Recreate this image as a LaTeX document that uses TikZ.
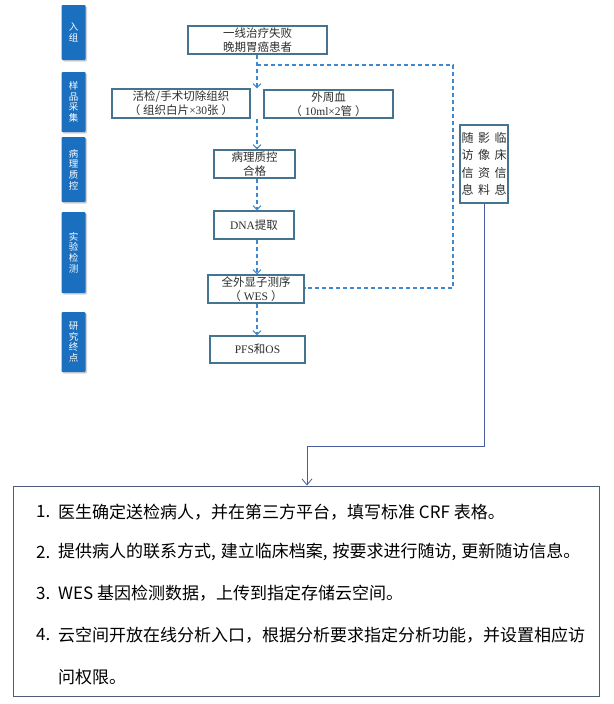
\documentclass[tikz,border=0pt]{standalone}
\usepackage{fontspec}
\setmainfont{Noto Sans CJK SC}
\newfontfamily\tms{Liberation Serif}
\usetikzlibrary{arrows.meta,shadows}
\definecolor{barblue}{HTML}{1A6FBE}
\definecolor{boxline}{HTML}{44748F}
\definecolor{dashblue}{HTML}{3F87CF}
\definecolor{solidline}{HTML}{4A5C9C}
\definecolor{txtgray}{HTML}{2E2E2E}
\definecolor{botline}{HTML}{4C5D7C}
\begin{document}
\begin{tikzpicture}[x=1pt,y=-1pt,
  bar/.style={fill=barblue, draw=none, rounded corners=1pt,
    drop shadow={opacity=0.35,shadow xshift=1.6pt,shadow yshift=-1.6pt},
    text=white, font=\fontsize{9.5}{10.7}\selectfont, align=center, inner sep=0,
    minimum width=24pt},
  box/.style={draw=boxline, line width=1.1pt, fill=white, text=txtgray,
    font=\fontsize{11.5}{14}\selectfont, align=center, inner sep=0,
    drop shadow={opacity=0.2,shadow xshift=1pt,shadow yshift=-1pt}},
  dflow/.style={draw=dashblue, line width=1.1pt, dash pattern=on 4pt off 3pt},
  arr/.style={-{Straight Barb[length=4pt,width=8pt,line width=1.1pt]}},
  sline/.style={draw=solidline, line width=0.9pt},
  arrs/.style={-{Straight Barb[length=6pt,width=10pt,line width=0.8pt]}},
  btxt/.style={anchor=west, inner sep=0, text=black, font=\fontsize{17}{20}\selectfont}
]
\fill[white] (0,0) rectangle (613,704);
\useasboundingbox (0,0) rectangle (613,704);

% left bars
\node[bar, minimum height=55pt] (s1) at (73.5,32.5) {入\\组};
\node[bar, minimum height=60pt] (s2) at (73.5,102) {样\\品\\采\\集};
\node[bar, minimum height=65pt] (s3) at (73.5,169.5) {病\\理\\质\\控};
\node[bar, minimum height=81pt] (s4) at (73.5,252.5) {实\\验\\检\\测};
\node[bar, minimum height=60pt] (s5) at (73.5,342) {研\\究\\终\\点};

% flow boxes
\node[box, minimum width=139pt, minimum height=28pt] (b1) at (257.5,40) {一线治疗失败\\晚期胃癌患者};
\node[box, minimum width=138pt, minimum height=29pt] (b2) at (181,103.5) {活检/手术切除组织\\（\hspace{3pt}组织白片{\tms ×30}张\hspace{3pt}）};
\node[box, minimum width=129pt, minimum height=28pt] (b3) at (328.5,104) {外周血\\（\hspace{3pt}{\tms 10ml×2}管\hspace{3pt}）};
\node[box, minimum width=81pt, minimum height=28pt] (b4) at (254.5,164) {病理质控\\合格};
\node[box, minimum width=80pt, minimum height=28pt] (b5) at (254,225) {{\tms DNA}提取};
\node[box, minimum width=96pt, minimum height=28pt] (b6) at (256,289) {全外显子测序\\（\hspace{3pt}{\tms WES}\hspace{3pt}）};
\node[box, minimum width=95pt, minimum height=27pt] (b7) at (257.5,349.5) {{\tms PFS}和{\tms OS}};

% right info box
\node[box, minimum width=48pt, minimum height=78pt, font=\fontsize{12}{17.3}\selectfont] (rb) at (484,164)
  {随\hspace{4.5pt}影\hspace{4.5pt}临\\访\hspace{4.5pt}像\hspace{4.5pt}床\\信\hspace{4.5pt}资\hspace{4.5pt}信\\息\hspace{4.5pt}料\hspace{4.5pt}息};

% bottom box
\node[draw=botline, line width=1pt, minimum width=586pt, minimum height=210pt, inner sep=0] (bot) at (306,591) {};
\node[btxt] (n1) at (36,512) {1.};
\node[btxt] (t1) at (58,512) {医生确定送检病人，并在第三方平台，填写标准 CRF 表格。};
\node[btxt] (n2) at (36,552) {2.};
\node[btxt] (t2) at (58,552) {提供病人的联系方式,\hspace{5pt}建立临床档案,\hspace{5pt}按要求进行随访,\hspace{5pt}更新随访信息。};
\node[btxt] (n3) at (36,593) {3.};
\node[btxt] (t3) at (58,593) {WES 基因检测数据，上传到指定存储云空间。};
\node[btxt] (n4) at (36,635) {4.};
\node[btxt] (t4) at (58,635) {云空间开放在线分析入口，根据分析要求指定分析功能，并设置相应访};
\node[btxt] (t5) at (58,677) {问权限。};

% central dashed flow
\coordinate (ax) at (257,0);
\draw[dflow,arr] (ax |- b1.south) -- (ax |- b2.north);
\draw[dflow,arr] (ax |- b2.south) -- (ax |- b4.north);
\draw[dflow,arr] (ax |- b4.south) -- (ax |- b5.north);
\draw[dflow,arr] (ax |- b5.south) -- (ax |- b6.north);
\draw[dflow,arr] (ax |- b6.south) -- (ax |- b7.north);

% dashed loop
\coordinate (lp1) at (257,65);
\coordinate (lp2) at (453,65);
\coordinate (lp3) at (453,288);
\draw[dflow] (lp1) -- (lp2) -- (lp3) -- (lp3 -| b6.east);

% solid connector
\coordinate (c2) at (307,446);
\draw[sline,arrs] (rb.south) |- (c2) -- (c2 |- bot.north);
\end{tikzpicture}
\end{document}
